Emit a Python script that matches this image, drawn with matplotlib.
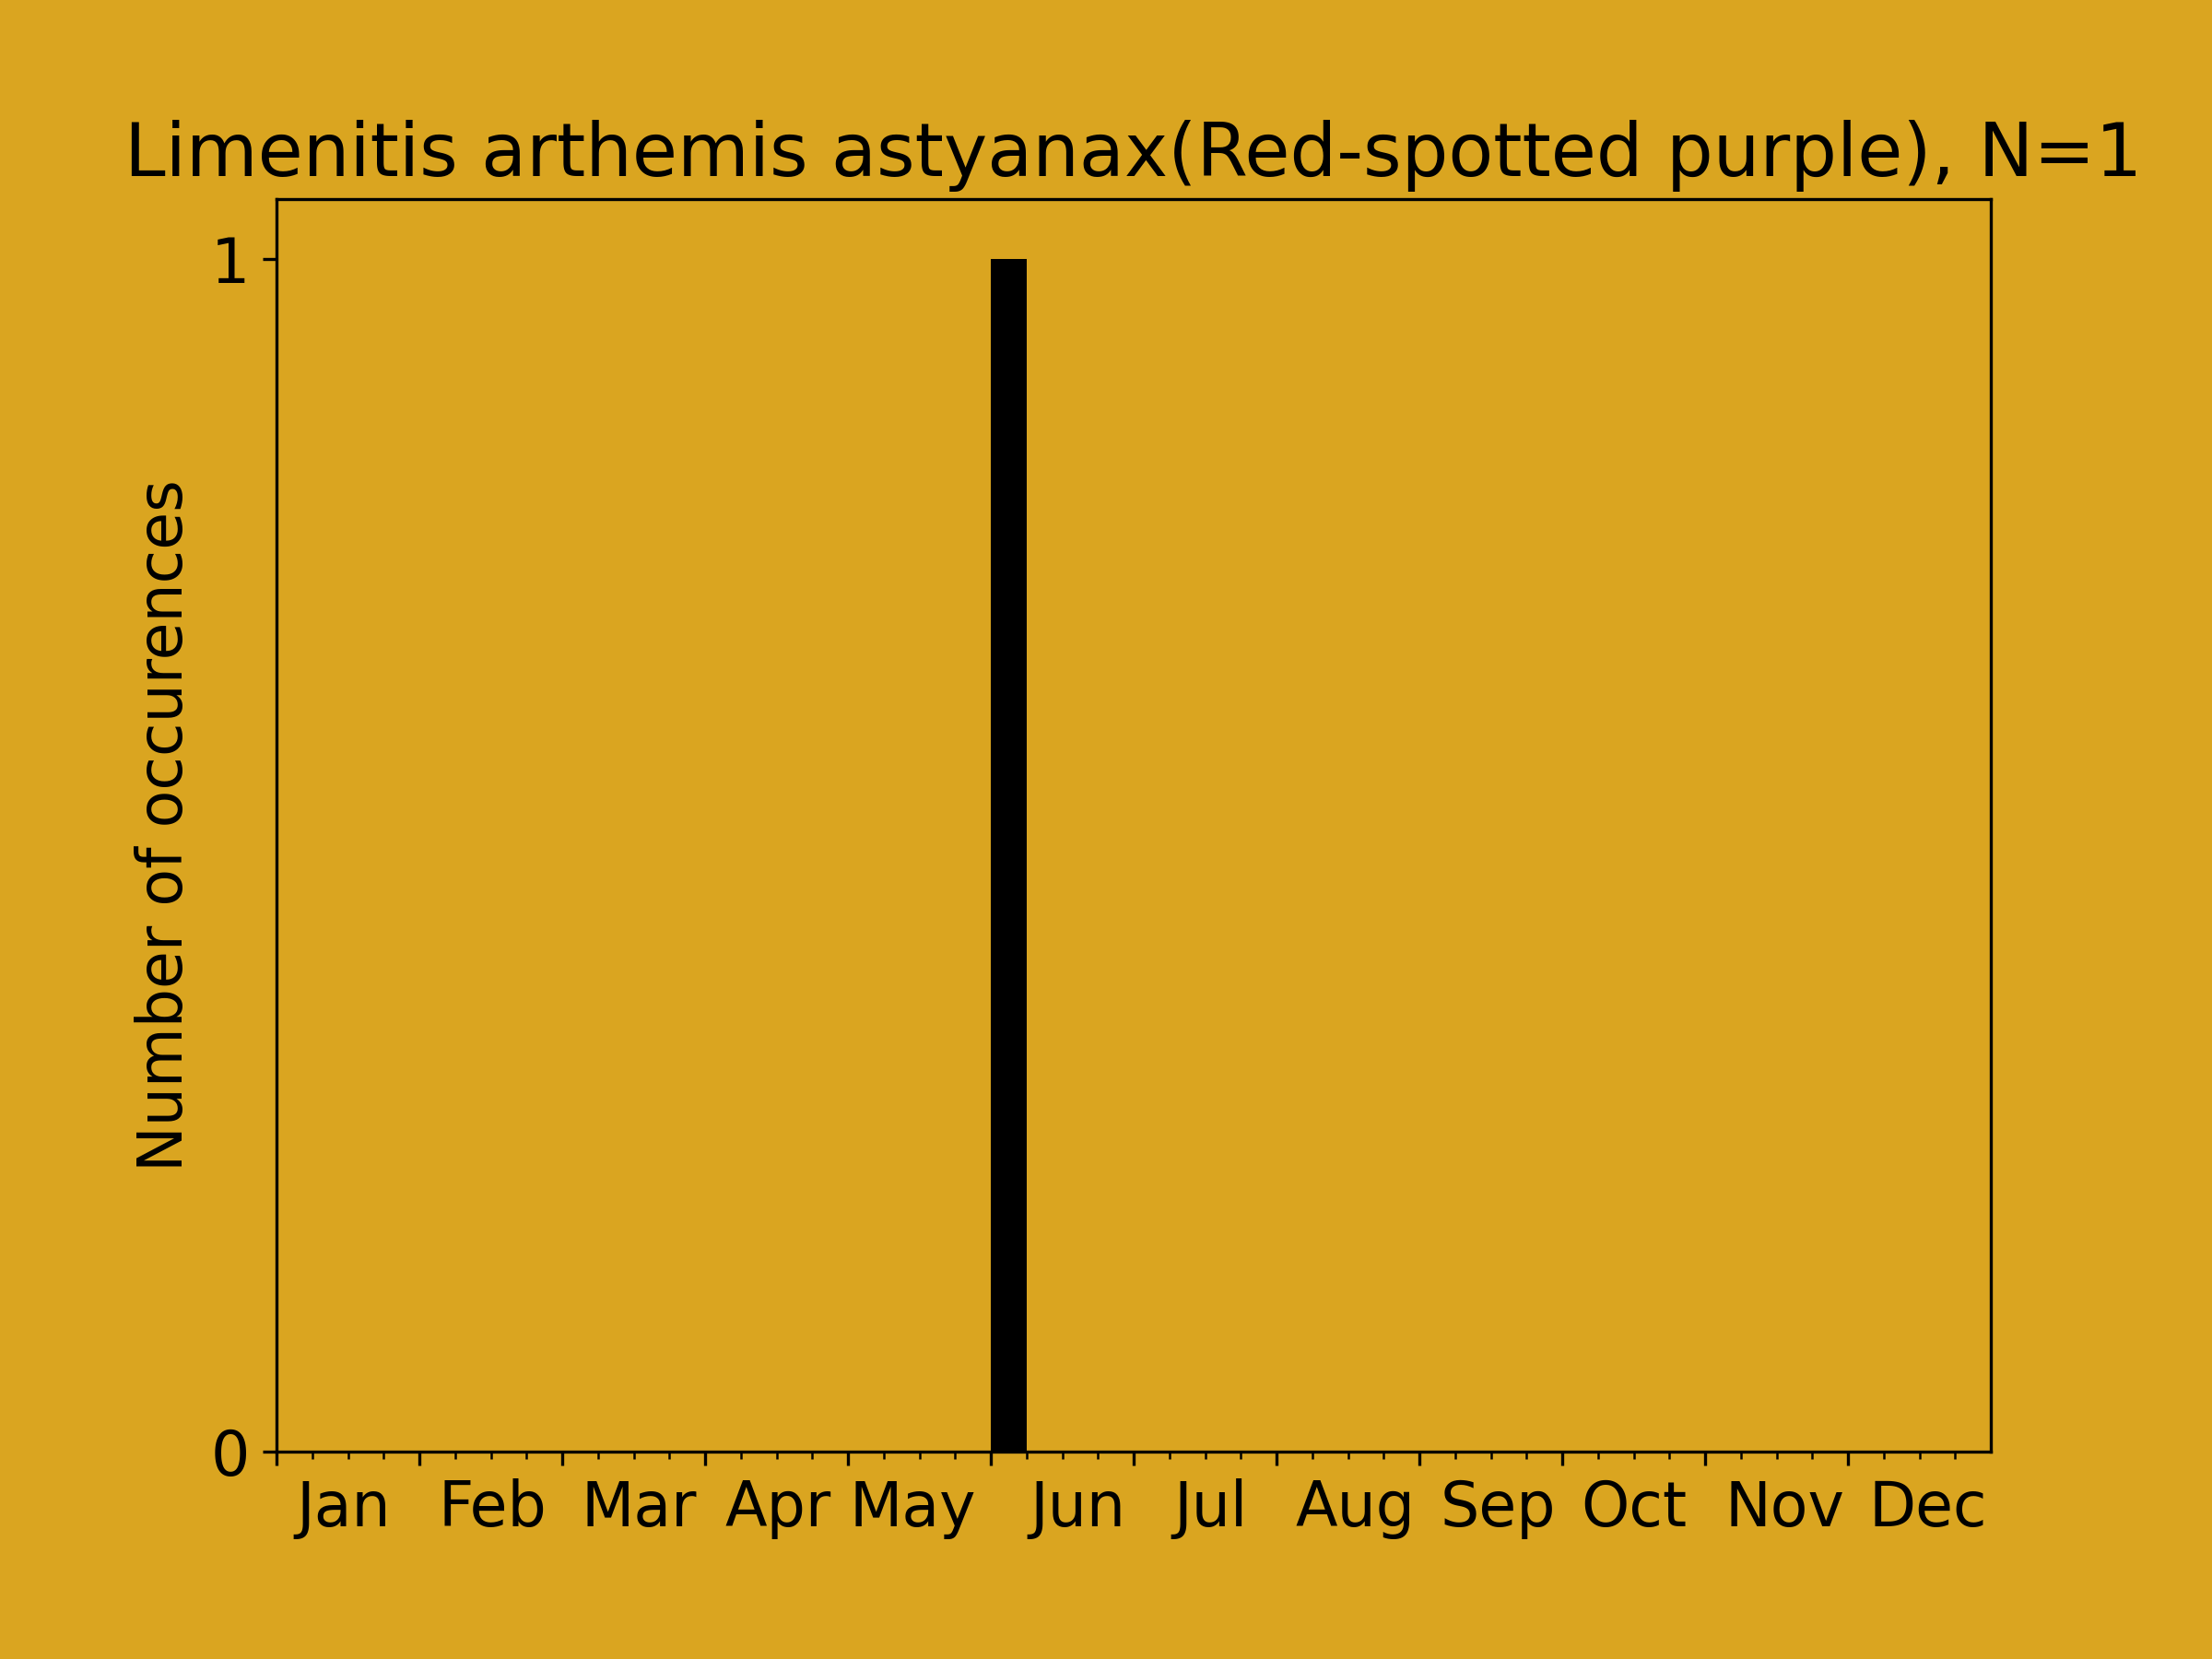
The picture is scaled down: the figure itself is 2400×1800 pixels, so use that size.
import numpy as np
import matplotlib
matplotlib.use("Agg")
import matplotlib.pyplot as plt

# broj opazanja po tjednu (48 binova, 4 po mjesecu)
counts = [0, 0, 0, 0, 0, 0, 0, 0, 0, 0, 0, 0,
          0, 0, 0, 0, 0, 0, 0, 0, 1, 0, 0, 0,
          0, 0, 0, 0, 0, 0, 0, 0, 0, 0, 0, 0,
          0, 0, 0, 0, 0, 0, 0, 0, 0, 0, 0, 0]
months = ["Jan", "Feb", "Mar", "Apr", "May", "Jun",
          "Jul", "Aug", "Sep", "Oct", "Nov", "Dec"]
# polozaj oznaka mjeseci (u binovima), ocitano sa slike
month_pos = [1.88, 6.04, 10.16, 14.04, 17.8, 22.43,
             26.16, 30.2, 34.2, 38.0, 42.24, 46.24]
naslov = "Limenitis arthemis astyanax(Red-spotted purple), N=1"

bg = "#DAA520"
fig = plt.figure(figsize=(8, 6), dpi=300, facecolor=bg)
ax = fig.add_subplot(111, facecolor=bg)
fig.subplots_adjust(left=0.125, right=0.9, top=0.88, bottom=0.125)

edges = np.arange(len(counts))
ax.bar(edges, counts, width=1, align="edge", color="black")

ax.set_xlim(0, len(counts))
ax.set_ylim(0, 1.05)
ax.set_yticks([0, 1])
ax.tick_params(axis="y", labelsize=16)

# pocetak svakog mjeseca je glavna crtica, tjedni su sporedne
ax.set_xticks(np.arange(0, 48, 4))
ax.set_xticklabels([""] * 12)
ax.set_xticks(np.arange(0, 48), minor=True)
ax.tick_params(axis="x", which="minor", labelbottom=False)

# oznake mjeseci bez crtica
sec = ax.secondary_xaxis("bottom")
sec.set_xticks(month_pos)
sec.set_xticklabels(months, fontsize=16)
sec.tick_params(length=0, pad=3.5 + 3.5)
sec.spines["bottom"].set_visible(False)

ax.set_ylabel("Number of occurences", fontsize=16)
ax.set_title(naslov, fontsize=19.2)

fig.savefig("out.png", dpi=300, facecolor=bg)
